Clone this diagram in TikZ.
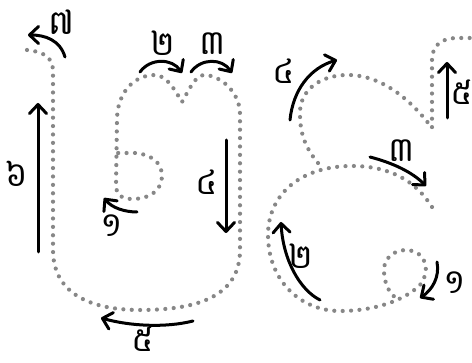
\documentclass[tikz,border=0pt]{standalone}
\usepackage{fontspec}
\usepackage{tikz}
\usetikzlibrary{arrows.meta}
\newfontfamily\khmerfont[Script=Khmer]{Battambang}
\definecolor{guidegray}{RGB}{135,135,135}

\begin{document}
\begin{tikzpicture}[x=1pt,y=-1pt,
    guide/.style={guidegray, line width=4.2pt, line cap=round, dash pattern=on 0pt off 8.4pt},
    stroke/.style={black, line width=3pt, line cap=round, -{Straight Barb[length=9pt,width=17pt,line cap=round,line join=round]}},
    num/.style={font=\khmerfont\fontsize{34}{34}\selectfont, inner sep=0pt}]
  \useasboundingbox (0,0) rectangle (472,363);

  % --- first letter: dotted guide
  \draw[guide] (27,50) .. controls (45,52) and (53,58) .. (53,72) -- (53,250)
    .. controls (53,290) and (85,310) .. (140,310) .. controls (200,310) and (240,295) .. (240,250)
    -- (240,114) .. controls (240,92) and (220,75) .. (204,75) .. controls (195,75) and (188,92) .. (182,102)
    .. controls (176,92) and (167,75) .. (155,75) .. controls (132,75) and (117,95) .. (117,120)
    -- (116,185) .. controls (116,195) and (122,199) .. (132,199)
    .. controls (150,199) and (162,190) .. (162,176) .. controls (162,162) and (150,154) .. (135,153) -- (116,153);

  % --- first letter: strokes
  \draw[stroke] (137,212) .. controls (125,212) and (112,208) .. (104,198);
  \node[num] (a1) at (112,226) {១};
  \draw[stroke] (140,72) .. controls (150,58) and (172,58) .. (182,73);
  \node[num] (a2) at (163,43) {២};
  \draw[stroke] (191,72) .. controls (201,58) and (222,58) .. (232,73);
  \node[num] (a3) at (213,44) {៣};
  \draw[stroke] (226,140) -- (226,233);
  \node[num] (a4) at (207,182) {៤};
  \draw[stroke] (193,321) .. controls (165,328) and (130,326) .. (101,318);
  \node[num] (a5) at (143,339) {៥};
  \draw[stroke] (38,252) -- (38,103);
  \node[num] (a6) at (17,174) {៦};
  \draw[stroke] (65,57) .. controls (60,40) and (45,35) .. (28,35);
  \node[num] (a7) at (62,22) {៧};

  % --- second letter: dotted guide
  \draw[guide] (318,163) .. controls (303,145) and (300,130) .. (300,113)
    .. controls (300,90) and (320,75) .. (348,75) .. controls (385,75) and (415,105) .. (432,128)
    -- (432,60) .. controls (432,45) and (442,38) .. (457,38) -- (480,38);
  \draw[guide] (432,207) .. controls (415,180) and (390,167) .. (355,166)
    .. controls (300,165) and (268,195) .. (268,235) .. controls (268,280) and (300,311) .. (340,311)
    .. controls (375,311) and (405,300) .. (420,285) .. controls (430,272) and (428,252) .. (407,250)
    .. controls (390,250) and (383,262) .. (384,272) .. controls (385,288) and (392,297) .. (400,300);

  % --- second letter: strokes
  \draw[stroke] (437,262) .. controls (440,277) and (432,290) .. (420,298);
  \node[num] (b1) at (455,283) {១};
  \draw[stroke] (320,300) .. controls (300,290) and (283,260) .. (281,222);
  \node[num] (b2) at (301,256) {២};
  \draw[stroke] (370,157) .. controls (393,163) and (412,172) .. (426,186);
  \node[num] (b3) at (402,151) {៣};
  \draw[stroke] (290,120) .. controls (293,90) and (310,68) .. (337,60);
  \node[num] (b4) at (284,71) {៤};
  \draw[stroke] (447,118) -- (447,62);
  \node[num] (b5) at (462,92) {៥};
\end{tikzpicture}
\end{document}
